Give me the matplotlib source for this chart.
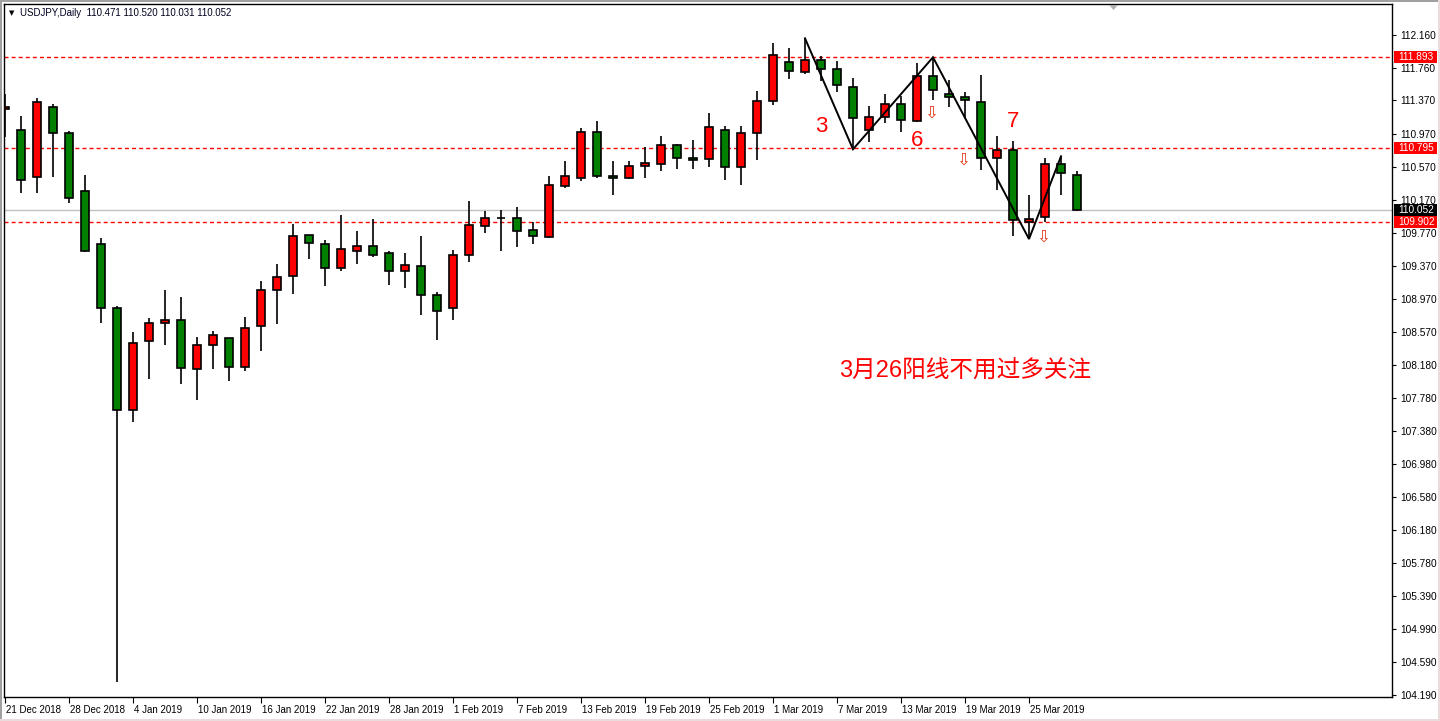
import matplotlib
matplotlib.use('Agg')
import matplotlib.pyplot as plt
from matplotlib.patches import Rectangle, Polygon
import matplotlib.transforms as mtransforms

# ---------------- data ----------------
symbol_title = "USDJPY,Daily  110.471 110.520 110.031 110.052"

opens = [111.266, 111.013, 110.441, 111.287, 110.973, 110.276, 109.632, 108.859, 107.631, 108.461,
         108.678, 108.714, 108.123, 108.413, 108.497, 108.147, 108.642, 109.077, 109.246, 109.741,
         109.632, 109.342, 109.548, 109.608, 109.524, 109.306, 109.367, 109.016, 108.859, 109.499,
         109.850, 109.944, 109.946, 109.801, 109.717, 110.333, 110.437, 110.985, 110.454, 110.430,
         110.574, 110.598, 110.828, 110.671, 110.659, 111.009, 110.562, 110.973, 111.359, 111.830,
         111.710, 111.854, 111.746, 111.528, 111.009, 111.166, 111.323, 111.118, 111.661, 111.444,
         111.408, 111.347, 110.671, 110.768, 109.898, 109.958, 110.598, 110.471]
highs = [111.447, 111.182, 111.396, 111.323, 111.001, 110.469, 109.705, 108.883, 108.569, 108.739,
         109.080, 108.996, 108.513, 108.585, 108.505, 108.754, 109.189, 109.391, 109.877, 109.745,
         109.680, 109.986, 109.793, 109.938, 109.551, 109.524, 109.729, 109.053, 109.560, 110.152,
         110.031, 110.043, 110.079, 109.898, 110.457, 110.638, 111.037, 111.121, 110.638, 110.638,
         110.807, 110.940, 110.844, 110.892, 111.214, 111.057, 111.057, 111.484, 112.063, 111.999,
         112.120, 111.906, 111.842, 111.637, 111.299, 111.444, 111.420, 111.818, 111.891, 111.613,
         111.468, 111.673, 110.937, 110.876, 110.224, 110.671, 110.687, 110.520]
lows = [110.928, 110.255, 110.255, 110.441, 110.135, 109.536, 108.685, 104.350, 107.490, 108.009,
        108.420, 107.949, 107.756, 108.130, 107.985, 108.106, 108.347, 108.673, 109.036, 109.458,
        109.132, 109.306, 109.398, 109.475, 109.144, 109.108, 108.782, 108.480, 108.714, 109.415,
        109.765, 109.548, 109.596, 109.632, 109.705, 110.316, 110.400, 110.437, 110.231, 110.425,
        110.437, 110.514, 110.545, 110.545, 110.562, 110.405, 110.345, 110.647, 111.311, 111.625,
        111.685, 111.601, 111.468, 110.780, 110.864, 111.094, 110.985, 111.110, 111.371, 111.287,
        111.154, 110.526, 110.284, 109.729, 109.696, 109.898, 110.224, 110.031]
closes = [111.290, 110.405, 111.347, 110.973, 110.188, 109.551, 108.859, 107.631, 108.437, 108.678,
          108.714, 108.135, 108.413, 108.533, 108.147, 108.618, 109.077, 109.234, 109.729, 109.644,
          109.342, 109.572, 109.608, 109.499, 109.306, 109.379, 109.016, 108.823, 109.499, 109.862,
          109.946, 109.948, 109.789, 109.729, 110.348, 110.454, 110.985, 110.454, 110.430, 110.574,
          110.611, 110.828, 110.671, 110.647, 111.045, 110.562, 110.973, 111.359, 111.918, 111.722,
          111.854, 111.746, 111.553, 111.154, 111.166, 111.323, 111.130, 111.661, 111.492, 111.408,
          111.371, 110.671, 110.768, 109.922, 109.934, 110.598, 110.490, 110.052]

date_labels = ['21 Dec 2018', '28 Dec 2018', '4 Jan 2019', '10 Jan 2019', '16 Jan 2019',
               '22 Jan 2019', '28 Jan 2019', '1 Feb 2019', '7 Feb 2019', '13 Feb 2019',
               '19 Feb 2019', '25 Feb 2019', '1 Mar 2019', '7 Mar 2019', '13 Mar 2019',
               '19 Mar 2019', '25 Mar 2019']
date_label_bars = [0, 4, 8, 12, 16, 20, 24, 28, 32, 36, 40, 44, 48, 52, 56, 60, 64]

price_ticks = [112.160, 111.760, 111.370, 110.970, 110.570, 110.170, 109.770, 109.370,
               108.970, 108.570, 108.180, 107.780, 107.380, 106.980, 106.580, 106.180,
               105.780, 105.390, 104.990, 104.590, 104.190]

hlines_red = [111.893, 110.795, 109.902]
bid_price = 110.052

zz_bars = [50, 53, 58, 64, 66]
zz_prices = [112.120, 110.780, 111.891, 109.696, 110.695]

wave_labels = ['3', '6', '7']
wave_label_bars = [51.0, 57.0, 63.0]
wave_label_prices = [111.060, 110.880, 111.110]

arrow_bars = [57.9, 59.9, 64.9]
arrow_prices = [111.226, 110.659, 109.724]

note_text = '3月26阳线不用过多关注'
note_bar = 52.1
note_price = 108.090

# ---------------- figure ----------------
W, H = 1440, 721
fig = plt.figure(figsize=(W / 100, H / 100), dpi=100)
fig.patch.set_facecolor('white')
L_, R_, T_, B_ = 4, 1392, 4, 697
ax = fig.add_axes([L_ / W, 1 - B_ / H, (R_ - L_) / W, (B_ - T_) / H])

px_per_unit = 82.8
ymax = 112.160 + (35 - T_) / px_per_unit
ymin = 112.160 - (B_ - 35) / px_per_unit
ax.set_ylim(ymin, ymax)
ax.set_xlim((L_ - 5) / 16, (R_ - 5) / 16)

NUMFONT = ['Liberation Sans', 'DejaVu Sans']

# horizontal lines
for p in hlines_red:
    ax.axhline(p, color='#ff0000', lw=1.0, linestyle=(0, (2.9, 2.2)), zorder=1)
ax.axhline(bid_price, color='#c0c0c0', lw=1.0, zorder=1)

# candles
for i, (o, h, l, c) in enumerate(zip(opens, highs, lows, closes)):
    col = '#ff0000' if c > o else '#008000'
    ax.vlines(i, l, h, color='black', lw=1.2, zorder=2)
    ax.bar(i, abs(c - o), bottom=min(o, c), width=0.53, color=col,
           edgecolor='black', linewidth=1.2, zorder=3)

# zigzag
ax.plot(zz_bars, zz_prices, color='black', lw=1.4, zorder=4, solid_joinstyle='miter')

# wave labels
for t, xb, yp in zip(wave_labels, wave_label_bars, wave_label_prices):
    ax.text(xb, yp, t, color='#ff0000', fontsize=16, family=NUMFONT,
            ha='center', va='center', zorder=5)

# hollow arrows
for xb, yp in zip(arrow_bars, arrow_prices):
    ax.text(xb, yp, '\u21e9', color='#e03a1a', fontsize=12, family=['DejaVu Sans'],
            ha='center', va='center', zorder=5)

# note
ax.text(note_bar, note_price, note_text, color='#ff0000', fontsize=17,
        family=['Liberation Sans', 'Noto Sans CJK SC'], ha='left', va='center', zorder=5)

# axes styling
for s in ax.spines.values():
    s.set_color('black')
    s.set_linewidth(1.0)

ax.yaxis.tick_right()
ax.set_yticks(price_ticks)
ax.set_yticklabels(['%.3f' % v for v in price_ticks])
ax.tick_params(axis='y', direction='out', length=3, width=0.8, pad=3, labelsize=7.3,
               colors='black')
for lab in ax.get_yticklabels():
    lab.set_family(NUMFONT)

ax.set_xticks(date_label_bars)
ax.set_xticklabels(date_labels)
ax.tick_params(axis='x', direction='out', length=4, width=0.8, pad=2, labelsize=7,
               colors='black')
offset = mtransforms.ScaledTranslation(1 / 100, 0, fig.dpi_scale_trans)
for lab in ax.get_xticklabels():
    lab.set_family(NUMFONT)
    lab.set_horizontalalignment('left')
    lab.set_transform(lab.get_transform() + offset)

# price boxes on the right axis
btrans = mtransforms.blended_transform_factory(fig.transFigure, ax.transData)
box_h = 12 / px_per_unit
for p, fc in [(hlines_red[0], '#ff0000'), (hlines_red[1], '#ff0000'),
              (hlines_red[2], '#ff0000'), (bid_price, '#000000')]:
    r = Rectangle((1394 / W, p - box_h / 2), (1437 - 1394) / W, box_h,
                  transform=btrans, facecolor=fc, edgecolor='none', clip_on=False, zorder=6)
    ax.add_patch(r)
    ax.text(1398 / W, p, '%.3f' % p, transform=btrans, color='white', fontsize=7.3,
            family=NUMFONT, ha='left', va='center', clip_on=False, zorder=7)

# title
fig.text(9 / W, 1 - 13 / H, '\u25bc', fontsize=5, color='black', ha='left', va='center',
         family=['DejaVu Sans'])
fig.text(20 / W, 1 - 13 / H, symbol_title, fontsize=7, color='#000020', ha='left',
         va='center', family=NUMFONT)

# chart shift marker
fig.patches.append(Polygon([[1109 / W, 1 - 5 / H], [1118 / W, 1 - 5 / H], [1113.5 / W, 1 - 10 / H]],
                           closed=True, transform=fig.transFigure, facecolor='#b0b0b0',
                           edgecolor='none'))

# outer window frame
fig.patches.append(Rectangle((0, 0), 2 / W, 1, transform=fig.transFigure,
                             facecolor='#a0a0a0', edgecolor='none'))
fig.patches.append(Rectangle((0, 1 - 2 / H), 1, 2 / H, transform=fig.transFigure,
                             facecolor='#a0a0a0', edgecolor='none'))
fig.patches.append(Rectangle((1 - 2 / W, 0), 2 / W, 1, transform=fig.transFigure,
                             facecolor='#eadcdc', edgecolor='none'))
fig.patches.append(Rectangle((0, 0), 1, 2 / H, transform=fig.transFigure,
                             facecolor='#eadcdc', edgecolor='none'))

fig.savefig('out.png', dpi=100, facecolor='white')
